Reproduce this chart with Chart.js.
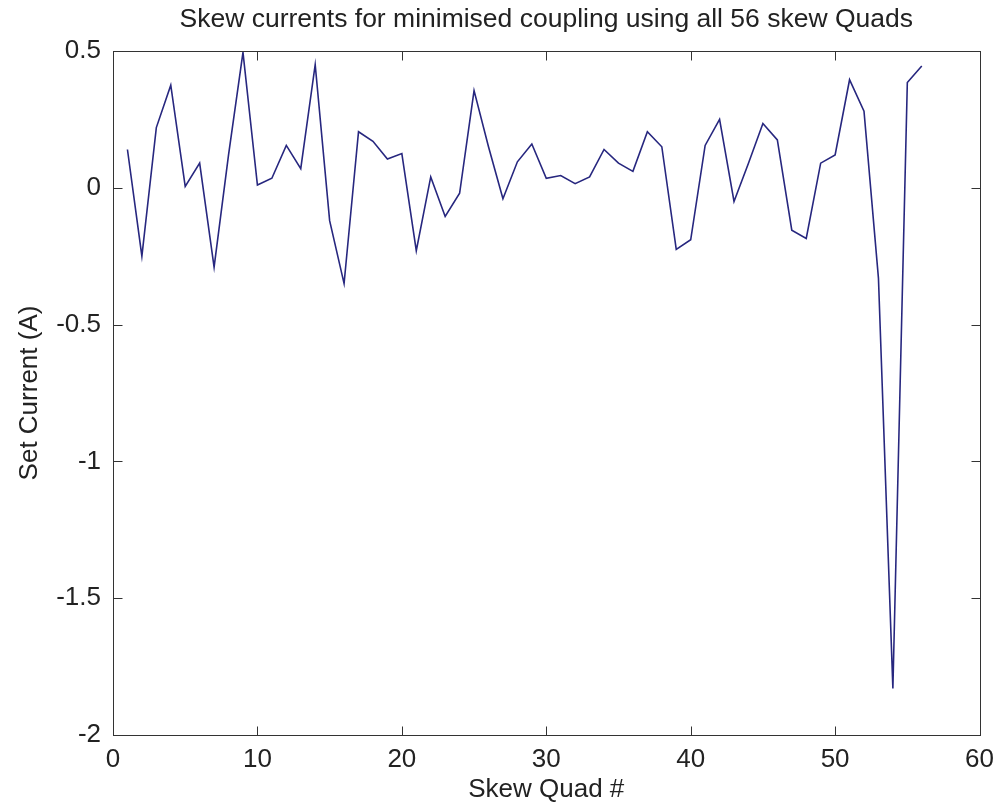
<!DOCTYPE html>
<html>
<head>
<meta charset="utf-8">
<script src="https://cdn.jsdelivr.net/npm/chart.js@4"></script>
<style>
html,body{margin:0;padding:0;background:#fff;}
#wrap{width:1003px;height:802px;}
</style>
</head>
<body>
<div id="wrap"><canvas id="c" width="1003" height="802"></canvas></div>
<script>
const quadNumbers = [1,2,3,4,5,6,7,8,9,10,11,12,13,14,15,16,17,18,19,20,21,22,23,24,25,26,27,28,29,30,31,32,33,34,35,36,37,38,39,40,41,42,43,44,45,46,47,48,49,50,51,52,53,54,55,56];
const setCurrents = [0.14,-0.25,0.22,0.375,0.005,0.09,-0.29,0.12,0.495,0.01,0.035,0.155,0.07,0.45,-0.12,-0.35,0.205,0.17,0.105,0.125,-0.23,0.04,-0.105,-0.02,0.355,0.15,-0.04,0.095,0.16,0.035,0.045,0.015,0.04,0.14,0.09,0.06,0.205,0.15,-0.225,-0.19,0.155,0.25,-0.05,0.09,0.235,0.175,-0.155,-0.185,0.09,0.12,0.395,0.28,-0.33,-1.83,0.385,0.445];
const xTickValues = [0,10,20,30,40,50,60];
const yTickValues = [0.5,0,-0.5,-1,-1.5,-2];
const titleText = 'Skew currents for minimised coupling using all 56 skew Quads';
const xTitle = 'Skew Quad #';
const yTitle = 'Set Current (A)';

const FONT = '"Liberation Sans", Arial, sans-serif';
const TEXT = '#222';

const boxPlugin = {
  id: 'matlabBox',
  afterDatasetsDraw(chart) {
    const {ctx, chartArea: a, scales: {x, y}} = chart;
    ctx.save();
    ctx.strokeStyle = '#333';
    ctx.lineWidth = 1;
    const L = Math.round(a.left) + 0.5, R = Math.round(a.right) + 0.5;
    const T = Math.round(a.top) + 0.5, B = Math.round(a.bottom) + 0.5;
    ctx.strokeRect(L, T, R - L, B - T);
    const tl = 9;
    ctx.beginPath();
    xTickValues.forEach(v => {
      const px = Math.round(x.getPixelForValue(v)) + 0.5;
      ctx.moveTo(px, B); ctx.lineTo(px, B - tl);
      ctx.moveTo(px, T); ctx.lineTo(px, T + tl);
    });
    yTickValues.forEach(v => {
      const py = Math.round(y.getPixelForValue(v)) + 0.5;
      ctx.moveTo(L, py); ctx.lineTo(L + tl, py);
      ctx.moveTo(R, py); ctx.lineTo(R - tl, py);
    });
    ctx.stroke();
    ctx.restore();
  }
};

new Chart(document.getElementById('c'), {
  type: 'line',
  data: {
    datasets: [{
      data: quadNumbers.map((q, i) => ({x: q, y: setCurrents[i]})),
      borderColor: '#27277f',
      borderWidth: 1.6,
      pointRadius: 0,
      tension: 0,
      fill: false
    }]
  },
  options: {
    responsive: false,
    animation: false,
    events: [],
    layout: {padding: {left: 0, right: 22, top: 0, bottom: 0}},
    plugins: {
      legend: {display: false},
      tooltip: {enabled: false},
      title: {display: false}
    },
    scales: {
      x: {
        type: 'linear',
        min: 0, max: 60,
        afterFit(s) { s.height = 67; },
        afterBuildTicks(s) { s.ticks = xTickValues.map(v => ({value: v})); },
        grid: {display: false, drawTicks: false},
        border: {display: false},
        ticks: {color: TEXT, padding: 9, maxRotation: 0, font: {family: FONT, size: 26}},
        title: {display: true, text: xTitle, color: TEXT, font: {family: FONT, size: 26, lineHeight: 0.9}, padding: {top: 0, bottom: 0}}
      },
      xTop: {
        type: 'linear',
        position: 'top',
        min: 0, max: 60,
        afterFit(s) { s.height = 51; },
        grid: {display: false, drawTicks: false},
        border: {display: false},
        ticks: {display: false},
        title: {display: true, text: titleText, color: TEXT, font: {family: FONT, size: 26.5, lineHeight: 1.2}, padding: {top: 4, bottom: 0}}
      },
      y: {
        type: 'linear',
        min: -2, max: 0.5,
        afterFit(s) { s.width = 113; },
        afterBuildTicks(s) { s.ticks = yTickValues.map(v => ({value: v})); },
        grid: {display: false, drawTicks: false},
        border: {display: false},
        ticks: {color: TEXT, padding: 12, font: {family: FONT, size: 26}, callback: v => String(v)},
        title: {display: true, text: yTitle, color: TEXT, font: {family: FONT, size: 26, lineHeight: 1.2}, padding: {top: 14, bottom: 0}}
      }
    }
  },
  plugins: [boxPlugin]
});
</script>
</body>
</html>
